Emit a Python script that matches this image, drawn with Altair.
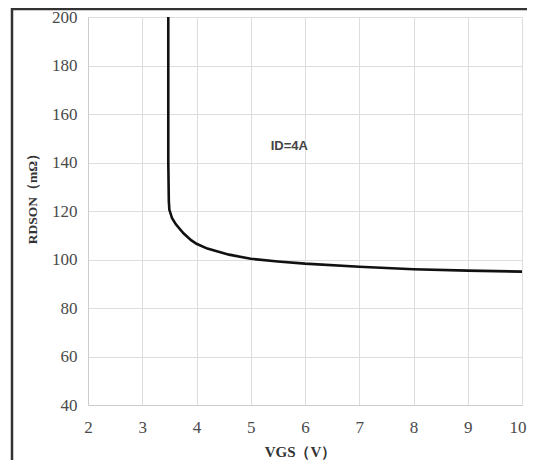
import altair as alt
import pandas as pd

# Curve values (VGS in V, RDSON in mOhm)
vgs = [3.48, 3.48, 3.49, 3.50, 3.55, 3.62, 3.76, 3.90, 4.00, 4.20, 4.60, 5.00, 5.50, 6.00, 7.00, 8.00, 9.00, 10.00]
rdson = [200.0, 140.0, 124.0, 120.5, 117.0, 114.5, 110.8, 108.0, 106.5, 104.5, 102.0, 100.3, 99.2, 98.3, 97.0, 96.0, 95.4, 95.0]

x_ticks = [2, 3, 4, 5, 6, 7, 8, 9, 10]
y_ticks = [40, 60, 80, 100, 120, 140, 160, 180, 200]

label_text = ["ID=4A"]
label_x = [5.71]
label_y = [146.8]

df = pd.DataFrame({"VGS": vgs, "RDSON": rdson, "order": list(range(len(vgs)))})
lab = pd.DataFrame({"text": label_text, "x": label_x, "y": label_y})

serif = "Liberation Serif"

xscale = alt.Scale(domain=[2, 10], nice=False, zero=False)
yscale = alt.Scale(domain=[40, 200], nice=False, zero=False)

line = alt.Chart(df).mark_line(color="#111111", strokeWidth=2.6).encode(
    x=alt.X("VGS:Q", scale=xscale,
            axis=alt.Axis(title="VGS（V）", values=x_ticks, grid=True, ticks=False,
                          labelPadding=14, format="d", labelFlush=False,
                          labelAlign=alt.ExprRef(expr="datum.value == 10 ? 'right' : 'center'"),
                          labelOffset=alt.ExprRef(expr="datum.value == 10 ? 4 : 0"),
                          titleFontSize=15, titleX=212, titleY=46,
                          titleAlign="center", titleBaseline="middle", titleAnchor="start")),
    y=alt.Y("RDSON:Q", scale=yscale,
            axis=alt.Axis(title="RDSON（mΩ）", values=y_ticks, grid=True, ticks=False,
                          labelPadding=11, format="d", labelFlush=False,
                          titleFontSize=13.5, titleX=-56, titleY=178, titleAngle=-90,
                          titleAlign="center", titleBaseline="middle", titleAnchor="start")),
    order="order:Q",
)

text = alt.Chart(lab).mark_text(font="Liberation Sans", fontSize=13, fontWeight="bold",
                                color="#444444").encode(
    x=alt.X("x:Q", scale=xscale), y=alt.Y("y:Q", scale=yscale), text="text:N")

frame = alt.Chart(lab).mark_rect(fill="transparent", stroke="#333333", strokeWidth=2.5).encode(
    x=alt.value(-76), x2=alt.value(700), y=alt.value(-8), y2=alt.value(700))

chart = alt.layer(frame, line, text).properties(
    width=434, height=388,
    autosize=alt.AutoSizeParams(type="none"),
    padding={"left": 80, "top": 9, "right": 5, "bottom": 55},
    background="white",
).configure_axis(
    gridColor="#dddddd", gridWidth=1,
    domainColor="#cccccc", domainWidth=1,
    labelFont=serif, labelFontSize=17, labelColor="#4a4a4a",
    titleFont=serif, titleColor="#333333", titleFontWeight="bold",
).configure_view(stroke=None)

chart.save("out.html", embed_options={"renderer": "svg", "actions": False})
